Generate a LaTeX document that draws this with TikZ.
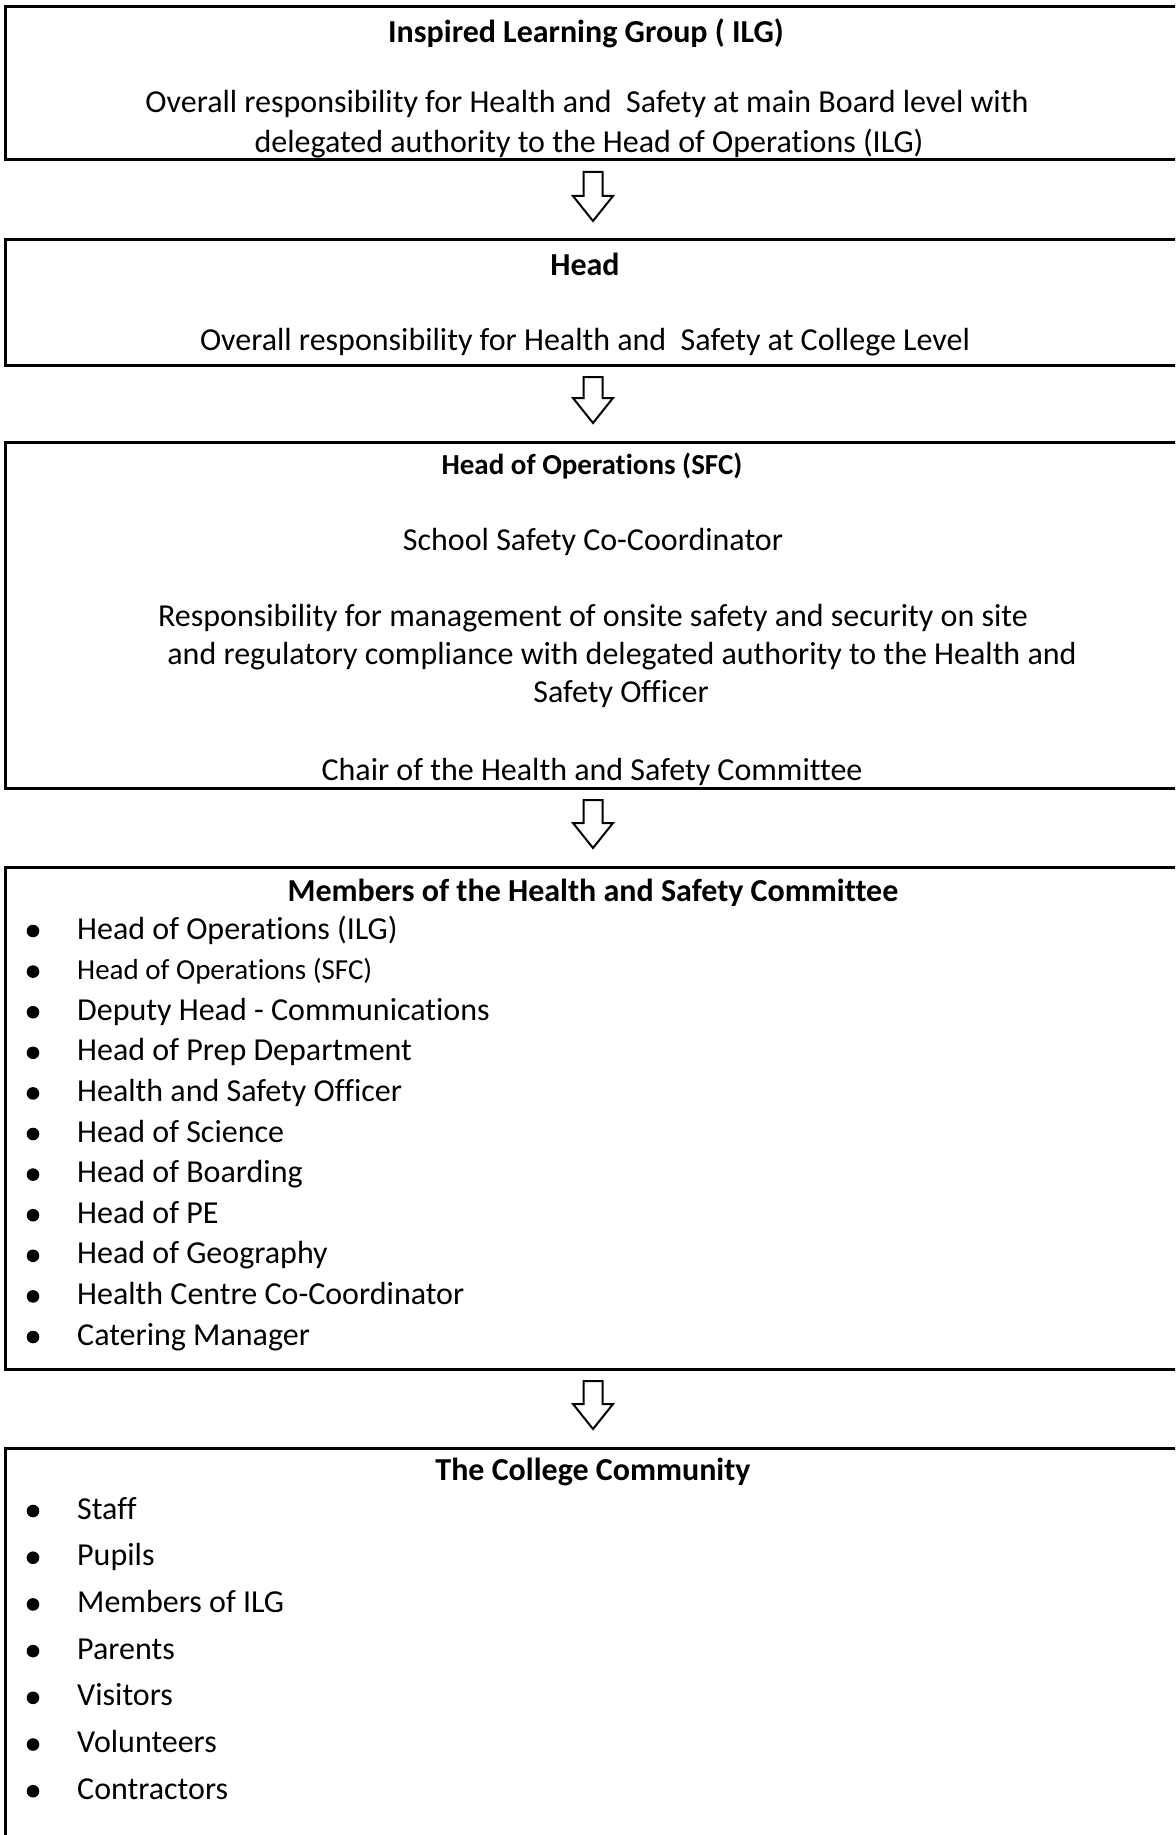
\documentclass[tikz,border=0pt]{standalone}
\usepackage{fontspec}
\setmainfont{Carlito}[Ligatures=NoCommon]
\usetikzlibrary{calc,positioning}
\tikzset{
  frame/.style={draw, line width=3pt, anchor=north west, minimum width=1260pt, inner sep=0pt, outer sep=0pt},
  headline/.style={anchor=base, inner sep=0pt, font=\fontsize{32}{39}\selectfont\bfseries},
  bodyline/.style={anchor=base, inner sep=0pt, font=\fontsize{32}{39}\selectfont},
  listline/.style={anchor=base west, inner sep=0pt, font=\fontsize{32}{39}\selectfont},
  hollow/.style={draw, line width=2pt, fill=white, line join=miter},
}
% hollow block arrow between two boxes
\newcommand{\downblock}[2]{%
  \coordinate (top) at ($(#1.south -| axis)+(0,12)$);
  \coordinate (tip) at ($(#2.north -| axis)+(0,-19)$);
  \draw[hollow] ($(top)+(-9.5,0)$) -- ($(tip)+(-9.5,-25)$) -- ($(tip)+(-20,-25)$) -- (tip)
    -- ($(tip)+(20,-25)$) -- ($(tip)+(9.5,-25)$) -- ($(top)+(9.5,0)$) -- cycle;}

\begin{document}
\begin{tikzpicture}[x=1pt,y=-1pt]
      \useasboundingbox (0,0) rectangle (1175,1835);
      \clip (0,0) rectangle (1175,1835);
      \coordinate (axis) at (593,0);
      % the five boxes
      \node[frame, minimum height=153pt] (ilg) at (5,7) {};
      \node[frame, minimum height=125pt] (head) at (5,240) {};
      \node[frame, minimum height=346pt] (ops) at (5,442) {};
      \node[frame, minimum height=502pt] (committee) at (5,867) {};
      \node[frame, minimum height=420pt] (community) at (5,1448) {};
      % arrows
      \downblock{ilg}{head}
      \downblock{head}{ops}
      \downblock{ops}{committee}
      \downblock{committee}{community}
      % Inspired Learning Group
      \node[headline] (ilgtitle) at (586,43) {Inspired Learning Group ( ILG)};
      \node[bodyline] (ilgtext1) at (587,113) {Overall responsibility for Health and\ \ Safety at main Board level with};
      \node[bodyline] (ilgtext2) at (589,153) {delegated authority to the Head of Operations (ILG)};
      % Head
      \node[headline] (headtitle) at (585,275) {Head};
      \node[bodyline] (headtext) at (585,350) {Overall responsibility for Health and\ \ Safety at College Level};
      % Head of Operations
      \node[headline, font=\fontsize{29}{35}\selectfont\bfseries] (opstitle) at (592,474) {Head of Operations (SFC)};
      \node[bodyline] (opsrole) at (593,550) {School Safety Co-Coordinator};
      \node[bodyline] (opstext1) at (593,626) {Responsibility for management of onsite safety and security on site};
      \node[bodyline] (opstext2) at (622,664) {and regulatory compliance with delegated authority to the Health and};
      \node[bodyline] (opstext3) at (621,702) {Safety Officer};
      \node[bodyline] (opschair) at (592,780) {Chair of the Health and Safety Committee};
      % committee members
      \node[headline] (cmtitle) at (593,901) {Members of the Health and Safety Committee};
      \foreach \t [count=\i] in {Head of Operations (ILG),
          {\fontsize{29}{35}\selectfont Head of Operations (SFC)},
          Deputy Head - Communications, Head of Prep Department,
          Health and Safety Officer, Head of Science, Head of Boarding,
          Head of PE, Head of Geography, Health Centre Co-Coordinator,
          Catering Manager} {
        \fill (33,{939+(\i-1)*40.6-8}) circle (6.3);
        \node[listline] (cm\i) at (77,{939+(\i-1)*40.6}) {\t};
      }
      % college community
      \node[headline] (cctitle) at (593,1480) {The College Community};
      \foreach \t [count=\i] in {Staff, Pupils, Members of ILG, Parents,
          Visitors, Volunteers, Contractors} {
        \fill (33,{1519+(\i-1)*46.7-8}) circle (6.3);
        \node[listline] (cc\i) at (77,{1519+(\i-1)*46.7}) {\t};
      }
    \end{tikzpicture}
\end{document}
